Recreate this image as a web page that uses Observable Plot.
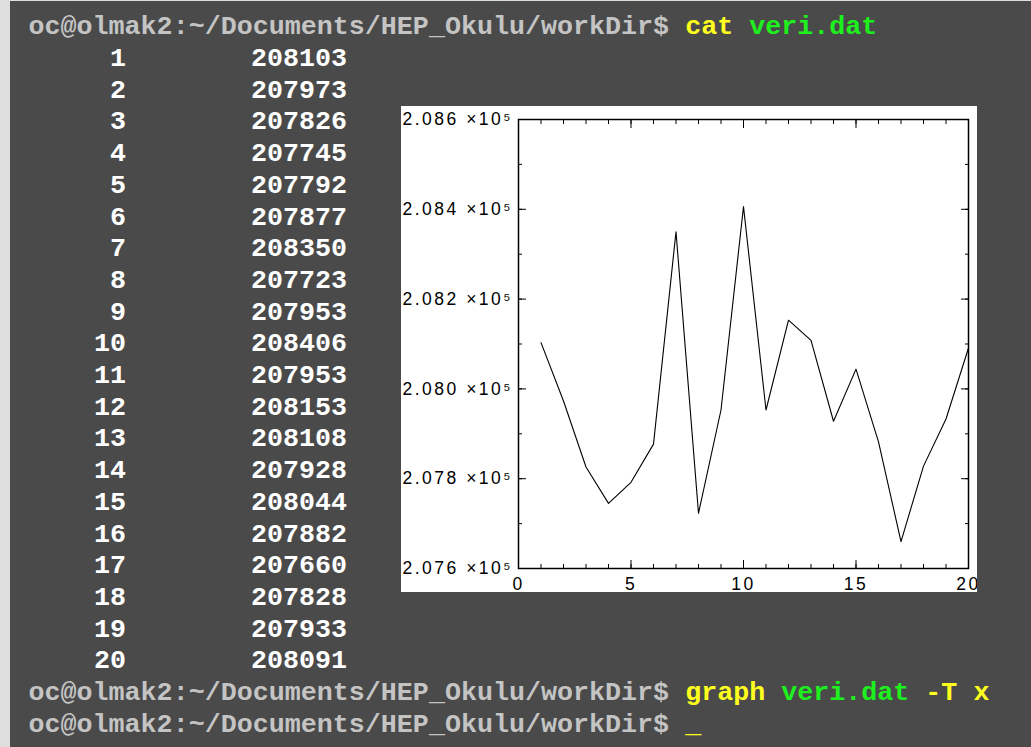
<!DOCTYPE html>
<html>
<head>
<meta charset="utf-8">
<script src="https://cdn.jsdelivr.net/npm/d3@7"></script>
<script src="https://cdn.jsdelivr.net/npm/@observablehq/plot@0.6"></script>
<style>
  html, body { margin: 0; padding: 0; width: 1031px; height: 747px; overflow: hidden; background: #dedede; }
  #term { position: absolute; left: 10px; top: 1px; width: 1021px; height: 746px; background: #4a4a4a; }
  .ln { position: absolute; height: 32px; line-height: 32px; white-space: pre;
        font-family: "Liberation Mono", "Courier New", monospace; font-weight: bold; font-size: 26.7px; }
  .prompt { color: #c4c4c4; }
  .yel { color: #ffff1e; }
  .grn { color: #1ef01e; }
  .num { color: #ffffff; }
  #graph { position: absolute; left: 401px; top: 106px; width: 576px; height: 486px; overflow: hidden; background: #fff; }
</style>
</head>
<body>
<div id="term"></div>
<div id="graph"></div>
<script>
// Contents of veri.dat: run number and count
const runs = [1, 2, 3, 4, 5, 6, 7, 8, 9, 10, 11, 12, 13, 14, 15, 16, 17, 18, 19, 20];
const counts = [208103, 207973, 207826, 207745, 207792, 207877, 208350, 207723, 207953, 208406,
                207953, 208153, 208108, 207928, 208044, 207882, 207660, 207828, 207933, 208091];

// Axis ticks of the graph window
const xMajor = [0, 5, 10, 15, 20];
const xMinor = [0, 1, 2, 3, 4, 5, 6, 7, 8, 9, 10, 11, 12, 13, 14, 15, 16, 17, 18, 19, 20];
const yMajor = [207600, 207800, 208000, 208200, 208400, 208600];
const yMinor = [207600, 207700, 207800, 207900, 208000, 208100, 208200, 208300, 208400, 208500, 208600];

const promptText = "oc@olmak2:~/Documents/HEP_Okulu/workDir$ ";

// ---- terminal session ----
const term = document.getElementById("term");
const lineTop = k => 26.3 + 31.7 * k - 16;   // top of line k inside the terminal
function addLine(k, parts) {
  const div = document.createElement("div");
  div.className = "ln";
  div.style.top = lineTop(k) + "px";
  div.style.left = "18.5px";
  for (const [cls, txt] of parts) {
    const s = document.createElement("span");
    s.className = cls;
    s.textContent = txt;
    div.appendChild(s);
  }
  term.appendChild(div);
  return div;
}
addLine(0, [["prompt", promptText], ["yel", "cat"], ["grn", " veri.dat"]]);
runs.forEach((r, i) => {
  const k = i + 1;
  const a = document.createElement("div");
  a.className = "ln num";
  a.style.top = lineTop(k) + "px";
  a.style.left = "0px";
  a.style.width = "116px";
  a.style.textAlign = "right";
  a.textContent = String(r);
  term.appendChild(a);
  const b = document.createElement("div");
  b.className = "ln num";
  b.style.top = lineTop(k) + "px";
  b.style.left = "241px";
  b.textContent = String(counts[i]);
  term.appendChild(b);
});
addLine(21, [["prompt", promptText], ["yel", "graph"], ["grn", " veri.dat"], ["yel", " -T x"]]);
addLine(22, [["prompt", promptText], ["yel", "_"]]);

// ---- graph window ----
const data = runs.map((r, i) => ({run: r, count: counts[i]}));
const fmtY = d => (d / 1e5).toFixed(3) + " \u00d710\u2075";

const chart = Plot.plot({
  width: 576,
  height: 486,
  marginLeft: 117,
  marginRight: 9,
  marginTop: 13,
  marginBottom: 24,
  x: {domain: [0, 20]},
  y: {domain: [207600, 208600]},
  style: {
    background: "white",
    color: "black",
    fontFamily: "'Liberation Sans', Arial, Helvetica, sans-serif",
    fontSize: "17.5px",
    letterSpacing: "2.5px"
  },
  marks: [
    Plot.frame({stroke: "black", strokeWidth: 1.5}),
    // inward ticks on all four sides
    Plot.axisX(xMinor, {anchor: "bottom", tickSize: -4, fill: "none", label: null}),
    Plot.axisX(xMinor, {anchor: "top", tickSize: -4, fill: "none", label: null}),
    Plot.axisX(xMajor, {anchor: "bottom", tickSize: -8, fill: "none", label: null}),
    Plot.axisX(xMajor, {anchor: "top", tickSize: -8, fill: "none", label: null}),
    Plot.axisY(yMinor, {anchor: "left", tickSize: -4, fill: "none", label: null}),
    Plot.axisY(yMinor, {anchor: "right", tickSize: -4, fill: "none", label: null}),
    Plot.axisY(yMajor, {anchor: "left", tickSize: -8, fill: "none", label: null}),
    Plot.axisY(yMajor, {anchor: "right", tickSize: -8, fill: "none", label: null}),
    // tick labels
    Plot.axisX(xMajor, {anchor: "bottom", tickSize: 0, tickPadding: 9, label: null, tickFormat: d => String(d)}),
    Plot.axisY(yMajor, {anchor: "left", tickSize: 0, tickPadding: 0, textAnchor: "start", dx: -116,
                        label: null, tickFormat: fmtY}),
    // the counts
    Plot.line(data, {x: "run", y: "count", stroke: "black", strokeWidth: 1.1})
  ]
});
document.getElementById("graph").appendChild(chart);
</script>
</body>
</html>
